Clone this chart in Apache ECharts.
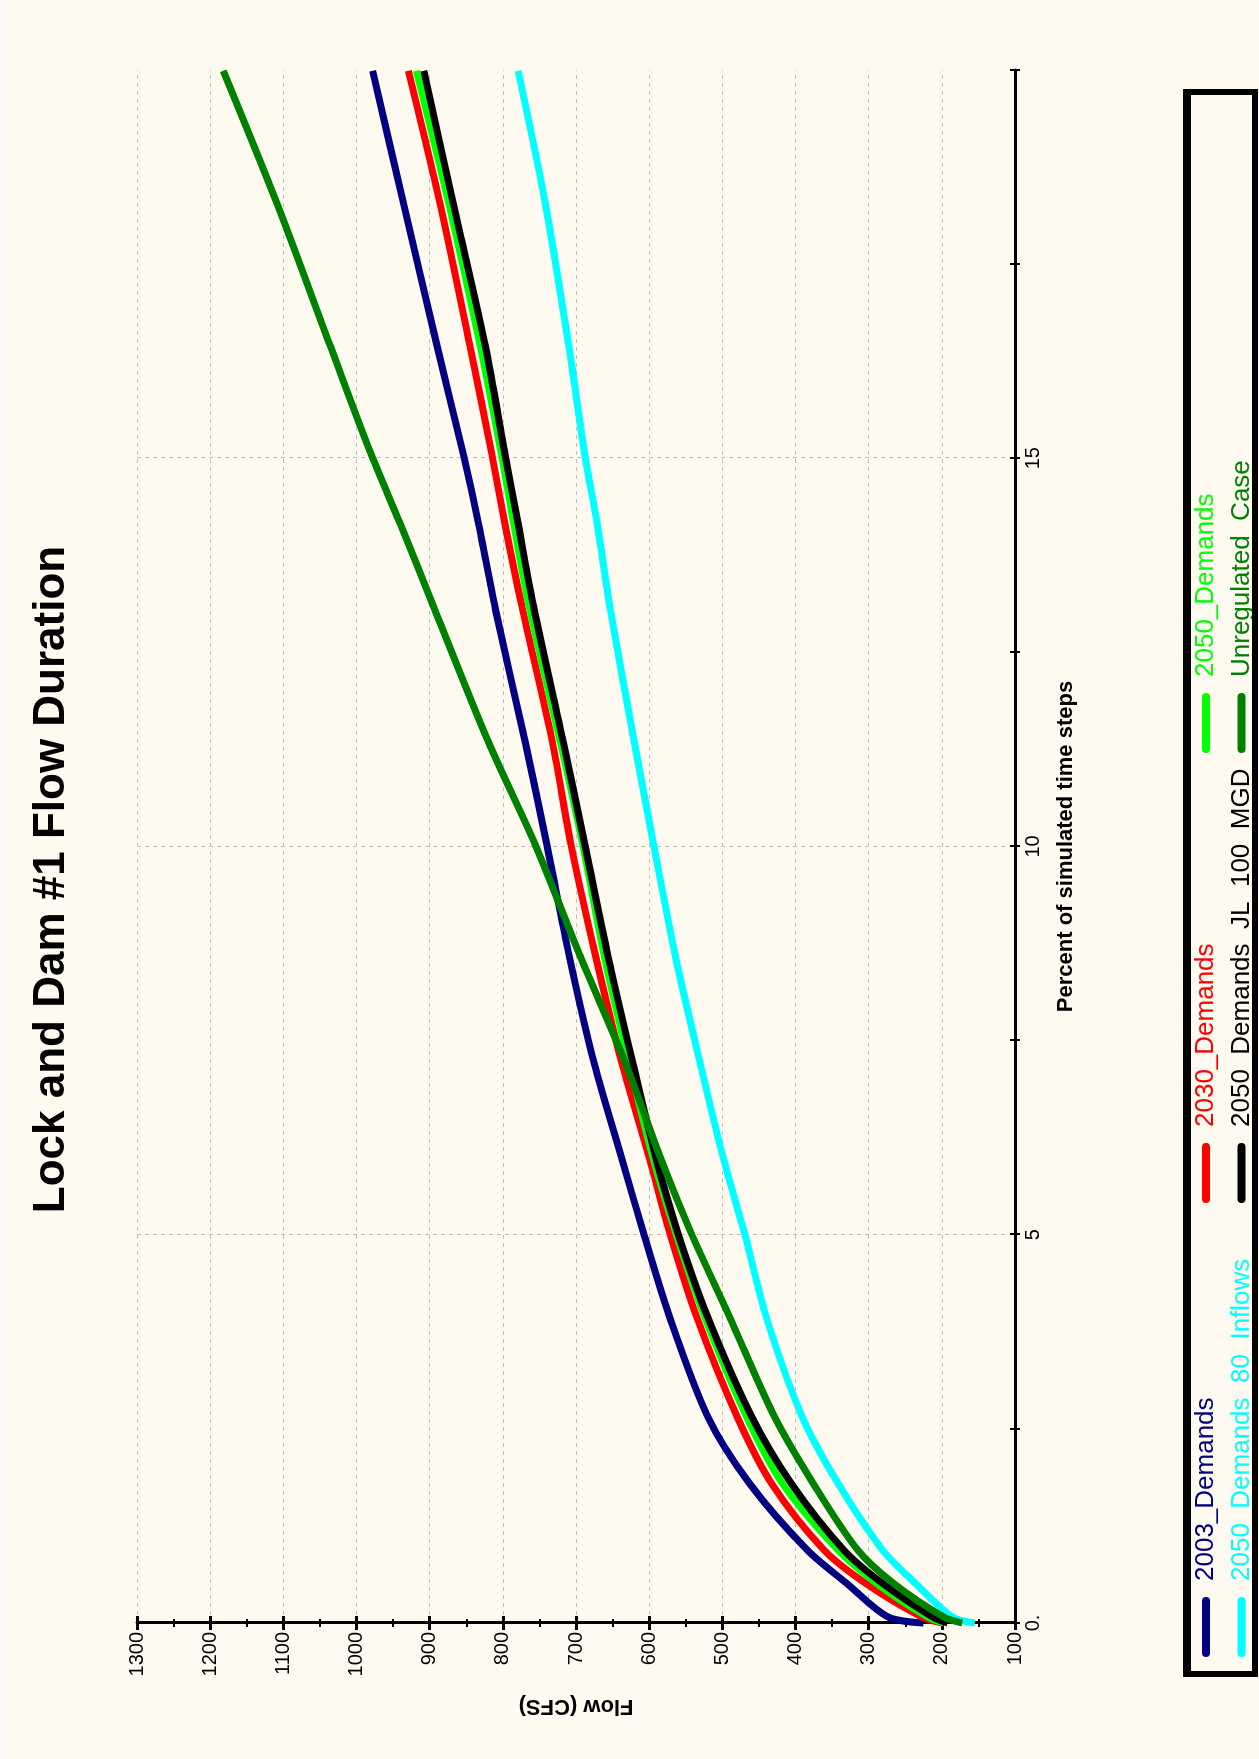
<!DOCTYPE html>
<html>
<head>
<meta charset="utf-8">
<script src="https://cdn.jsdelivr.net/npm/echarts@6/dist/echarts.min.js"></script>
<style>
html, body { margin:0; padding:0; width:1259px; height:1759px; overflow:hidden; background:#fffaf0; }
#chart { position:absolute; left:0; top:0; width:1759px; height:1259px;
  transform-origin:0 0; transform: translate(0px,1759px) rotate(-90deg); }
</style>
</head>
<body>
<div id="chart"></div>
<script>
// Percent of simulated time steps (x values)
const percents = [0, 0.08, 0.51, 0.94, 1.8, 2.66, 3.94, 5.03, 6.0, 7.2, 8.58, 10.03, 11.33, 13.05, 14.15, 15.05, 16.45, 18.29, 19.99];
// Flow (CFS) per series
const demands2003 = [225, 274, 330, 384, 463, 520, 572, 608, 638, 675, 709, 740, 769, 810, 833, 854, 890, 936, 978];
const demands2030 = [200, 228, 304, 361, 433, 480, 535, 572, 600, 637, 673, 707, 732, 773, 797, 815, 845, 886, 929];
const demands2050 = [197, 220, 289, 342, 418, 467, 524, 564, 595, 627, 661, 691, 721, 763, 785, 802, 831, 874, 918];
const demands2050_80 = [155, 186, 236, 281, 342, 391, 440, 470, 499, 530, 564, 594, 620, 653, 671, 688, 710, 742, 779];
const demands2050_JL = [192, 213, 281, 334, 406, 460, 520, 561, 591, 622, 656, 688, 717, 757, 779, 797, 824, 868, 908];
const unregulated = [172, 198, 266, 315, 376, 429, 490, 543, 585, 632, 694, 756, 819, 893, 940, 980, 1036, 1109, 1182];

const seriesNames = ['2003_Demands', '2030_Demands', '2050_Demands', '2050_Demands_80_Inflows', '2050_Demands_JL_100_MGD', 'Unregulated_Case'];
const seriesValues = [demands2003, demands2030, demands2050, demands2050_80, demands2050_JL, unregulated];
const seriesColors = ['#000080', '#ff0000', '#00ff00', '#00ffff', '#000000', '#008000'];

const FONT = "'Liberation Sans', Arial, sans-serif";
const chart = echarts.init(document.getElementById('chart'), null, {width:1759, height:1259});

const gridRect = {left:136, right:70, top:137, bottom:244, containLabel:false};

// legend graphics (unrotated coordinates)
const legendCols = [102, 556, 1006];
const legendRows = [1206, 1241.5];
const legendGraphics = [];
seriesNames.forEach((name, i) => {
  const col = i % 3, row = Math.floor(i / 3);
  const u = legendCols[col], v = legendRows[row];
  legendGraphics.push({
    type:'rect', z:50,
    shape:{x:u, y:v-4, width:60, height:8, r:4},
    style:{fill:seriesColors[i]}
  });
  legendGraphics.push({
    type:'text', z:50,
    style:{x:u+76, y:v, text:name, fill:seriesColors[i], font:'26px ' + FONT,
      textAlign:'left', textVerticalAlign:'middle'}
  });
});

const option = {
  backgroundColor:'#fffaf0',
  animation:false,
  title:{
    text:'Lock and Dam #1 Flow Duration',
    left:'center', top:30, padding:0,
    textStyle:{fontSize:44, fontWeight:'bold', color:'#000', fontFamily:FONT}
  },
  grid:[Object.assign({}, gridRect), Object.assign({}, gridRect)],
  xAxis:[{
    type:'value', gridIndex:0, min:0, max:20, interval:5, position:'bottom',
    name:'Percent of simulated time steps', nameLocation:'middle', nameGap:40,
    nameTextStyle:{fontSize:22, fontWeight:'bold', color:'#000', fontFamily:FONT},
    axisLine:{show:true, onZero:false, lineStyle:{color:'#000', width:3}},
    axisTick:{show:true, inside:false, length:5, lineStyle:{color:'#000', width:2}},
    minorTick:{show:true, splitNumber:2, length:5, lineStyle:{color:'#000', width:2}},
    axisLabel:{fontSize:20, color:'#000', fontFamily:FONT, margin:8, showMaxLabel:false,
      formatter:v => v === 0 ? '0.' : String(v)},
    splitLine:{show:true, showMinLine:false, showMaxLine:false, lineStyle:{color:'#c0c0c0', width:1, type:[4,4]}},
    minorSplitLine:{show:false}
  },{
    type:'value', gridIndex:1, min:0, max:20, interval:5, position:'bottom',
    axisLine:{show:false, onZero:false},
    axisTick:{show:true, inside:true, length:5, lineStyle:{color:'#000', width:2}},
    minorTick:{show:true, splitNumber:2, length:5, lineStyle:{color:'#000', width:2}},
    axisLabel:{show:false}, splitLine:{show:false}
  }],
  yAxis:[{
    type:'value', gridIndex:0, min:100, max:1300, interval:100, position:'left',
    name:'Flow (CFS)', nameLocation:'middle', nameGap:72, nameRotate:90,
    nameTextStyle:{fontSize:22, fontWeight:'bold', color:'#000', fontFamily:FONT},
    axisLine:{show:true, onZero:false, lineStyle:{color:'#000', width:3}},
    axisTick:{show:true, inside:false, length:7, lineStyle:{color:'#000', width:3}},
    minorTick:{show:true, splitNumber:2, length:4, lineStyle:{color:'#000', width:2}},
    axisLabel:{fontSize:20, color:'#000', fontFamily:FONT, margin:9, formatter:v => String(v)},
    splitLine:{show:true, showMinLine:false, lineStyle:{color:'#c0c0c0', width:1, type:[4,4]}}
  },{
    type:'value', gridIndex:1, min:100, max:1300, interval:100, position:'left',
    axisLine:{show:false, onZero:false},
    axisTick:{show:true, inside:true, length:7, lineStyle:{color:'#000', width:3}},
    minorTick:{show:true, splitNumber:2, length:4, lineStyle:{color:'#000', width:2}},
    axisLabel:{show:false}, splitLine:{show:false}
  }],
  series: seriesNames.map((name, i) => ({
    name:name, type:'line', xAxisIndex:0, yAxisIndex:0,
    data: percents.map((p, k) => [p, seriesValues[i][k]]),
    showSymbol:false, smooth:0.3,
    lineStyle:{color:seriesColors[i], width:7},
    itemStyle:{color:seriesColors[i]},
    z:2 + i
  })),
  graphic:[
    {type:'rect', z:-1, shape:{x:0, y:0, width:1759, height:10}, style:{fill:'#fbfbf6'}},
    ...legendGraphics,
    {type:'rect', z:60, shape:{x:85, y:1186, width:1582, height:69},
      style:{fill:'none', stroke:'#000', lineWidth:6}},
    {type:'rect', z:60, shape:{x:82, y:1183, width:1588, height:8},
      style:{fill:'#000'}}
  ]
};
chart.setOption(option);
</script>
</body>
</html>
